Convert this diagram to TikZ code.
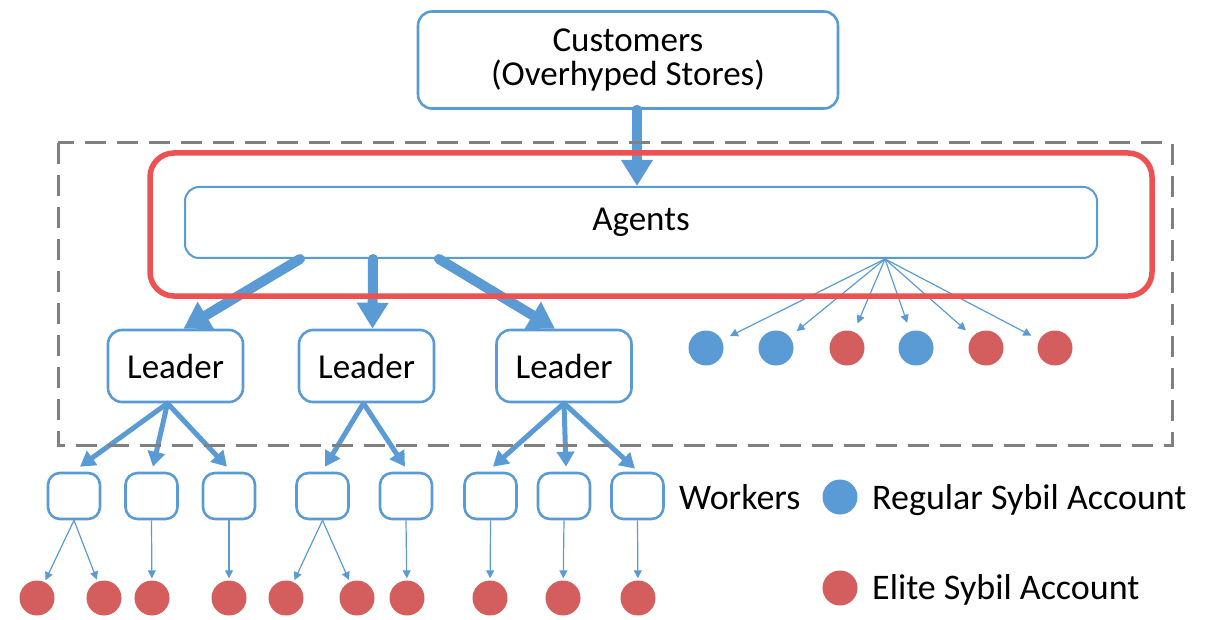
\documentclass[tikz,border=0pt]{standalone}
\usepackage{fontspec}
\setmainfont{Carlito}
\usetikzlibrary{arrows.meta}
\definecolor{boxblue}{RGB}{91,155,213}
\definecolor{elitered}{RGB}{212,94,94}
\definecolor{framered}{RGB}{236,82,82}
\definecolor{dashgray}{RGB}{128,128,128}

\begin{document}
\begin{tikzpicture}[x=1pt,y=-1pt,
  lbl/.style={font=\fontsize{35}{34}\selectfont},
  box/.style={lbl, draw=boxblue, line width=2.6pt, fill=white, rounded corners=14pt,
    align=center, inner sep=0pt},
  leaderbox/.style={box, minimum width=135pt, minimum height=72pt},
  workerbox/.style={box, rounded corners=12pt, minimum width=52pt, minimum height=46pt},
  regular/.style={circle, fill=boxblue, minimum size=35pt, inner sep=0pt},
  elite/.style={circle, fill=elitered, minimum size=35pt, inner sep=0pt},
  bigarrow/.style={draw=boxblue, line width=10pt, line cap=round,
    -{Triangle[width=30pt,length=26pt]}},
  midarrow/.style={draw=boxblue, line width=5pt, line cap=round,
    -{Triangle[width=17pt,length=15pt]}},
  thinarrow/.style={draw=boxblue, line width=1.2pt,
    -{Triangle[width=8pt,length=8pt]}, shorten >=2pt},
  legendtext/.style={font=\fontsize{36}{36}\selectfont, anchor=west, inner sep=0pt}
]
\useasboundingbox (0,0) rectangle (1220,620);

% top of the chain
\node[box, minimum width=420pt, minimum height=97pt] (cust) at (628,60)
  {Customers\\(Overhyped Stores)};
\node[box, line width=2pt, minimum width=912pt, minimum height=71pt] (agents) at (641,222.5) {Agents};

% leaders
\node[leaderbox] (L1) at (175.5,366) {Leader};
\node[leaderbox] (L2) at (366.5,366) {Leader};
\node[leaderbox] (L3) at (564,366) {Leader};

% workers
\foreach \n/\x in {1/74, 2/151.5, 3/229, 4/322.5, 5/406, 6/490.5, 7/564, 8/637.5}
  \node[workerbox] (w\n) at (\x,496) {};

% accounts held by workers
\node[elite] (c1) at (37,598) {};
\node[elite] (c2) at (104,598) {};
\node[elite] (c3) at (152,598) {};
\node[elite] (c4) at (229,598) {};
\node[elite] (c5) at (286,598) {};
\node[elite] (c6) at (357,598) {};
\node[elite] (c7) at (407,598) {};
\node[elite] (c8) at (490,598) {};
\node[elite] (c9) at (563,598) {};
\node[elite] (c10) at (638,598) {};

% accounts held directly by agents
\node[regular] (a1) at (706,348) {};
\node[regular] (a2) at (776,348) {};
\node[elite]   (a3) at (847,348) {};
\node[regular] (a4) at (916,348) {};
\node[elite]   (a5) at (986,348) {};
\node[elite]   (a6) at (1055,348) {};

% legend
\node[legendtext] (wlabel) at (679,497) {Workers};
\node[regular] (lreg) at (840,497) {};
\node[legendtext] (lregtext) at (872,500) {Regular Sybil Account};
\node[elite] (lelite) at (840,588) {};
\node[legendtext] (lelitetext) at (872,590) {Elite Sybil Account};

% customers to agents
\draw[bigarrow] ([xshift=9pt]cust.south) -- ([xshift=-4pt]agents.north);

% agents to leaders
\draw[bigarrow] ([xshift=-341pt]agents.south) -- ([xshift=8pt]L1.north);
\draw[bigarrow] ([xshift=-268pt]agents.south) -- ([xshift=6pt]L2.north);
\draw[bigarrow] ([xshift=-202pt]agents.south) -- ([xshift=-9pt]L3.north);

% leaders to workers
\draw[midarrow] ([xshift=-8pt]L1.south) -- ([xshift=6pt,yshift=5pt]w1.north);
\draw[midarrow] ([xshift=-8pt]L1.south) -- ([xshift=1.5pt,yshift=5pt]w2.north);
\draw[midarrow] ([xshift=-8pt]L1.south) -- ([xshift=-2pt,yshift=5pt]w3.north);
\draw[midarrow] ([xshift=-3pt]L2.south) -- ([xshift=2.5pt,yshift=5pt]w4.north);
\draw[midarrow] ([xshift=-3pt]L2.south) -- ([xshift=-1pt,yshift=5pt]w5.north);
\draw[midarrow] (L3.south) -- ([xshift=2.5pt,yshift=5pt]w6.north);
\draw[midarrow] (L3.south) -- ([xshift=2pt,yshift=5pt]w7.north);
\draw[midarrow] (L3.south) -- ([xshift=-2.5pt,yshift=3pt]w8.north);

% workers to their accounts
\draw[thinarrow] (w1.south) -- (c1);
\draw[thinarrow] (w1.south) -- (c2);
\draw[thinarrow] (w2.south) -- (c3);
\draw[thinarrow] (w3.south) -- (c4);
\draw[thinarrow] (w4.south) -- (c5);
\draw[thinarrow] (w4.south) -- (c6);
\draw[thinarrow] (w5.south) -- (c7);
\draw[thinarrow] (w6.south) -- (c8);
\draw[thinarrow] (w7.south) -- (c9);
\draw[thinarrow] (w8.south) -- (c10);

% agents' own accounts
\coordinate (fan) at ([xshift=244pt]agents.south);
\foreach \a in {a1,a2,a3,a4,a5,a6}
  \draw[thinarrow, shorten >=9pt] (fan) -- (\a);

% organisation frame and highlight
\draw[dashgray, line width=3pt, dash pattern=on 21pt off 11pt] (58,143) rectangle (1172,445);
\draw[framered, line width=5.5pt, rounded corners=24pt] (150,153) rectangle (1152,296);
\end{tikzpicture}
\end{document}
